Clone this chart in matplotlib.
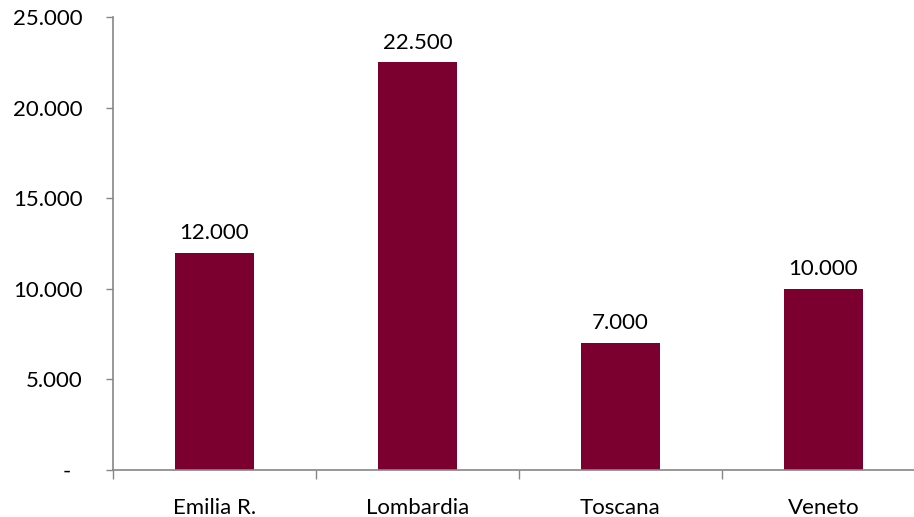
import matplotlib
matplotlib.use("Agg")
import matplotlib.pyplot as plt
import matplotlib.transforms as mtransforms

plt.rcParams['font.family'] = ['Lato', 'DejaVu Sans']

regions = ["Emilia R.", "Lombardia", "Toscana", "Veneto"]
values = [12000, 22500, 7000, 10000]
y_ticks = [0, 5000, 10000, 15000, 20000, 25000]
y_tick_labels = ["-", "5.000", "10.000", "15.000", "20.000", "25.000"]

bar_color = "#7B0030"
axis_color = "#868686"
fs = 16

W, H = 914, 517
fig = plt.figure(figsize=(W / 100, H / 100), dpi=100)
ax = fig.add_axes([113 / W, 47 / H, 812 / W, 453 / H])

x = list(range(len(regions)))
ax.bar(x, values, width=0.39, color=bar_color, zorder=2)

def fmt(v):
    return f"{v:,.0f}".replace(",", ".")

for xi, v in zip(x, values):
    ax.annotate(fmt(v), (xi, v), xytext=(0, 7), textcoords="offset points",
                ha="center", va="bottom", fontsize=fs, color="black")

ax.set_xlim(-0.5, len(regions) - 0.5)
ax.set_ylim(0, 25000)

# category boundaries as major ticks, names centred as minor ticks
ax.set_xticks([i - 0.5 for i in range(len(regions) + 1)])
ax.set_xticklabels([])
ax.set_xticks(x, minor=True)
ax.set_xticklabels(regions, minor=True, fontsize=fs)
ax.tick_params(axis="x", which="major", direction="out", length=6.5,
               width=1, color=axis_color)
ax.tick_params(axis="x", which="minor", length=0, pad=20)

ax.set_yticks(y_ticks)
ax.set_yticklabels(y_tick_labels, fontsize=fs)
ax.tick_params(axis="y", direction="out", length=5, width=1,
               color=axis_color, pad=17)

# the dash for zero sits further left than the numbers
zero_label = ax.get_yticklabels()[0]
zero_label.set_transform(zero_label.get_transform() +
                         mtransforms.ScaledTranslation(-12 / 100, 0, fig.dpi_scale_trans))

for side in ("top", "right"):
    ax.spines[side].set_visible(False)
for side in ("left", "bottom"):
    ax.spines[side].set_color(axis_color)
    ax.spines[side].set_linewidth(1.2)

fig.savefig("out.png", dpi=100)
